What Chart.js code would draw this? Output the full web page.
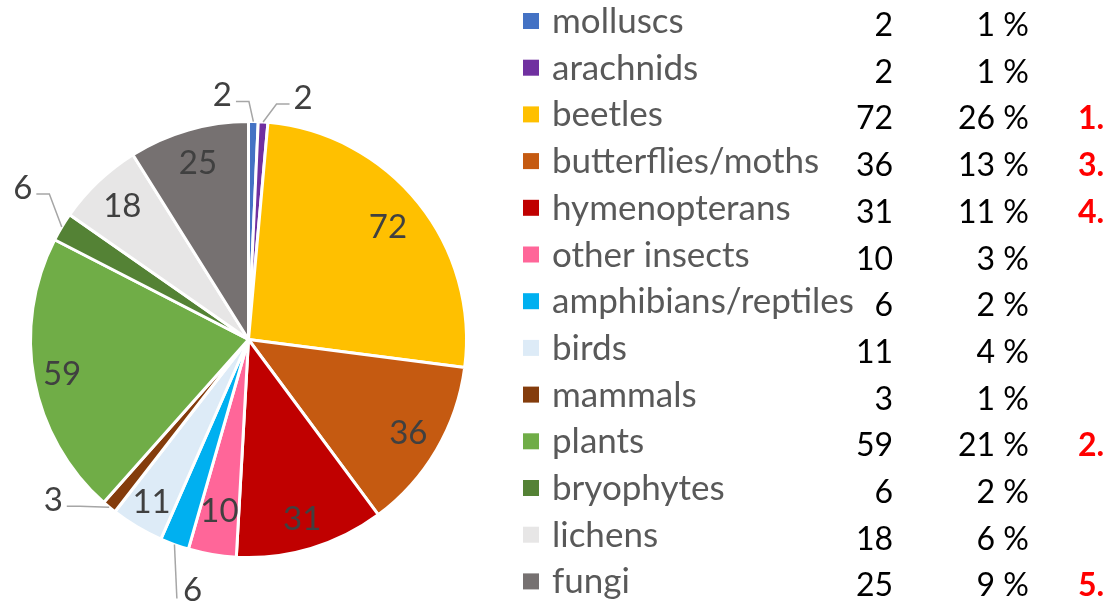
<!DOCTYPE html>
<html>
<head>
<meta charset="utf-8">
<script src="https://cdn.jsdelivr.net/npm/chart.js@4.4.1/dist/chart.umd.min.js"></script>
<style>
    html, body { margin: 0; padding: 0; background: #fff; }
    #wrap { position: relative; width: 1109px; height: 601px; }
</style>
</head>
<body>
<div id="wrap"><canvas id="speciesChart"></canvas></div>
<script>
'use strict';

// Data
const categories = ['molluscs', 'arachnids', 'beetles', 'butterflies/moths', 'hymenopterans', 'other insects',
    'amphibians/reptiles', 'birds', 'mammals', 'plants', 'bryophytes', 'lichens', 'fungi'];
const counts = [2, 2, 72, 36, 31, 10, 6, 11, 3, 59, 6, 18, 25];
const percents = [1, 1, 26, 13, 11, 3, 2, 4, 1, 21, 2, 6, 9];
const ranks = ['', '', '1.', '3.', '4.', '', '', '', '', '2.', '', '', '5.'];

// Styles
const colors = ['#4472C4', '#7030A0', '#FFC000', '#C55A11', '#C00000', '#FF6699',
    '#00B0F0', '#DDEBF7', '#843C0C', '#70AD47', '#548235', '#E7E6E6', '#767171'];
// radial position of inside labels (fraction of radius), null = outside with leader line
const insideFrac = [null, null, 0.82, 0.85, 0.86, 0.8, null, 0.87, null, 0.87, null, 0.84, 0.84];
// outside label offset from the slice's outer edge point
const outsideOffset = [[-31, -26], [40, -24], null, null, null, null, [18, 46], null, [-56, -7], null, [-39, -39], null, null];

const FONT = 'Lato, "Open Sans", sans-serif';

/* Étiquettes des parts */
const sliceLabels = {
    id: 'sliceLabels',
    afterDatasetsDraw(chart) {
        const ctx = chart.ctx;
        const arcs = chart.getDatasetMeta(0).data;
        ctx.save();
        ctx.font = '33px ' + FONT;
        ctx.fillStyle = '#404040';
        ctx.textAlign = 'center';
        ctx.textBaseline = 'middle';
        arcs.forEach((arc, i) => {
            const p = arc.getProps(['x', 'y', 'startAngle', 'endAngle', 'outerRadius'], true);
            const mid = (p.startAngle + p.endAngle) / 2;
            const txt = String(counts[i]);
            const off = outsideOffset[i];
            if (!off) {
                const d = p.outerRadius * insideFrac[i];
                ctx.fillText(txt, p.x + Math.cos(mid) * d, p.y + Math.sin(mid) * d);
                return;
            }
            const ax = p.x + Math.cos(mid) * p.outerRadius;
            const ay = p.y + Math.sin(mid) * p.outerRadius;
            const lx = ax + off[0];
            const ly = ay + off[1];
            ctx.fillText(txt, lx, ly);
            const w = ctx.measureText(txt).width;
            ctx.strokeStyle = '#a6a6a6';
            ctx.lineWidth = 1.5;
            ctx.beginPath();
            ctx.moveTo(ax, ay);
            if (off[1] > 0 && Math.abs(off[1]) > Math.abs(off[0])) {
                ctx.lineTo(lx - w / 2 - 6, ly + 8);
            } else {
                const side = off[0] < 0 ? 1 : -1;
                const ex = lx + side * (w / 2 + 4);
                const ey = ly + 6;
                ctx.lineTo(ex + side * 13, ey);
                ctx.lineTo(ex, ey);
            }
            ctx.stroke();
        });
        ctx.restore();
    },
};

/* Légende en tableau */
const tableLegend = {
    id: 'tableLegend',
    afterDraw(chart) {
        const ctx = chart.ctx;
        ctx.save();
        ctx.textBaseline = 'alphabetic';
        categories.forEach((name, i) => {
            const base = 33 + i * 46.7;
            ctx.fillStyle = colors[i];
            ctx.fillRect(523, base - 20, 16, 16);

            ctx.font = '35px ' + FONT;
            ctx.fillStyle = '#595959';
            ctx.textAlign = 'left';
            ctx.fillText(name, 552, base);

            ctx.font = '32px ' + FONT;
            ctx.fillStyle = '#000';
            ctx.textAlign = 'right';
            ctx.fillText(String(counts[i]), 893, base + 3);
            ctx.fillText(percents[i] + ' %', 1029, base + 3);

            if (ranks[i]) {
                ctx.font = 'bold 32px ' + FONT;
                ctx.fillStyle = '#FF0000';
                ctx.textAlign = 'left';
                ctx.fillText(ranks[i], 1078, base + 3);
            }
        });
        ctx.restore();
    },
};

const ctx = document.getElementById('speciesChart').getContext('2d');
const speciesChart = new Chart(ctx, {
    type: 'pie',
    data: {
        labels: categories,
        datasets: [
            {
                data: counts,
                backgroundColor: colors,
                borderColor: '#ffffff',
                borderWidth: 3,
            },
        ],
    },
    options: {
        responsive: true,
        maintainAspectRatio: false,
        animation: false,
        layout: {
            padding: { left: 29, right: 641, top: 120, bottom: 42 },
        },
        plugins: {
            legend: { display: false },
            tooltip: { enabled: false },
        },
    },
    plugins: [sliceLabels, tableLegend],
});
</script>
</body>
</html>
